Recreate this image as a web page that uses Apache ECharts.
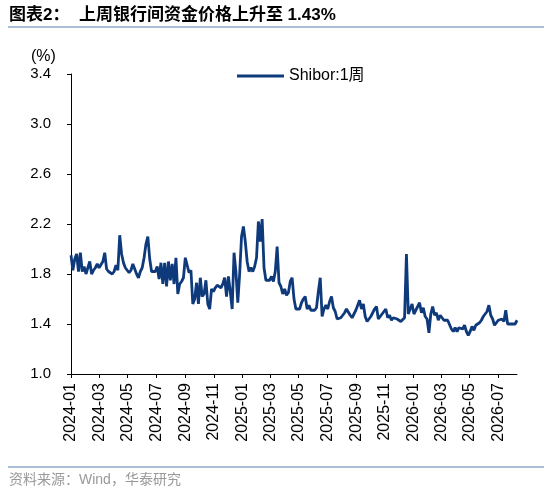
<!DOCTYPE html>
<html>
<head>
<meta charset="utf-8">
<script src="https://cdn.jsdelivr.net/npm/echarts@6/dist/echarts.min.js"></script>
<style>
  html,body{margin:0;padding:0;background:#fff;}
  #chart{width:550px;height:488px;}
</style>
</head>
<body>
<div id="chart"></div>
<script>
// 采样：从 2024-01-01 起每 4 天一个点
var startYear = 2024, startMonth = 0, startDay = 1, stepDays = 4;

// Shibor:1周（%）
var shibor1w = [
  1.95,1.83,1.92,1.96,1.82,1.97,1.82,1.86,1.80,1.81,
  1.90,1.80,1.83,1.85,1.88,1.85,1.86,1.90,1.97,1.84,
  1.82,1.81,1.80,1.82,1.87,1.83,2.11,1.96,1.89,1.85,
  1.83,1.81,1.83,1.88,1.87,1.80,1.77,1.82,1.85,1.93,
  2.04,2.10,1.92,1.82,1.81,1.82,1.86,1.76,1.89,1.72,
  1.89,1.70,1.90,1.75,1.88,1.72,1.93,1.64,1.72,1.74,
  1.77,1.93,1.94,1.81,1.83,1.56,1.60,1.73,1.56,1.77,
  1.62,1.64,1.75,1.56,1.52,1.68,1.66,1.69,1.71,1.71,
  1.69,1.72,1.77,1.62,1.78,1.66,1.52,1.97,1.82,1.57,
  1.80,2.10,2.18,2.06,1.90,1.82,1.85,1.82,1.86,1.93,
  2.22,2.06,2.24,1.85,1.75,1.76,1.75,1.78,1.74,1.82,
  2.02,1.73,1.70,1.64,1.68,1.63,1.65,1.74,1.77,1.60,
  1.52,1.51,1.52,1.57,1.60,1.62,1.52,1.55,1.51,1.52,
  1.51,1.53,1.66,1.77,1.46,1.52,1.55,1.52,1.58,1.62,
  1.53,1.50,1.44,1.44,1.45,1.45,1.49,1.52,1.53,1.47,
  1.45,1.48,1.51,1.55,1.59,1.52,1.56,1.46,1.42,1.44,
  1.46,1.47,1.52,1.54,1.44,1.46,1.47,1.50,1.52,1.45,
  1.47,1.43,1.45,1.45,1.44,1.43,1.42,1.41,1.45,1.96,
  1.48,1.49,1.56,1.48,1.51,1.52,1.57,1.49,1.53,1.46,
  1.44,1.33,1.48,1.54,1.47,1.49,1.43,1.47,1.45,1.43,
  1.44,1.43,1.42,1.36,1.34,1.37,1.34,1.37,1.38,1.36,
  1.39,1.34,1.31,1.34,1.38,1.35,1.39,1.38,1.41,1.43,
  1.46,1.47,1.50,1.55,1.47,1.44,1.39,1.39,1.43,1.42,
  1.44,1.42,1.51,1.40,1.39,1.40,1.39,1.40,1.43
];

// 横轴标签：每两个月
var tickMonths = ['2024-01','2024-03','2024-05','2024-07','2024-09','2024-11',
  '2025-01','2025-03','2025-05','2025-07','2025-09','2025-11',
  '2026-01','2026-03','2026-05','2026-07'];

var yTicks = [1.0, 1.4, 1.8, 2.2, 2.6, 3.0, 3.4];

var titleText = '图表2：  上周银行间资金价格上升至 1.43%';
var sourceText = '资料来源：Wind，华泰研究';
var seriesName = 'Shibor:1周';

var FONT = "'Liberation Sans', Arial, 'Noto Sans CJK SC', sans-serif";

var seriesData = [];
for (var i = 0; i < shibor1w.length; i++) {
  var d = new Date(startYear, startMonth, startDay + i * stepDays);
  seriesData.push([d.getTime(), shibor1w[i]]);
}
var tickValues = tickMonths.map(function (s) {
  var p = s.split('-');
  return new Date(+p[0], +p[1] - 1, 1).getTime();
});
var xMin = new Date(startYear, startMonth, startDay).getTime();
var xMax = seriesData[seriesData.length - 1][0];

function fmtMonth(v) {
  var d = new Date(v);
  var m = d.getMonth() + 1;
  return d.getFullYear() + '-' + (m < 10 ? '0' + m : m);
}

var option = {
  backgroundColor: '#fff',
  animation: false,
  textStyle: {fontFamily: FONT},
  grid: {left: 71, right: 33, top: 74, bottom: 114},
  legend: {
    left: 232,
    top: 63,
    icon: 'rect',
    itemWidth: 47,
    itemHeight: 3,
    itemGap: 5,
    textStyle: {fontSize: 16, color: '#000', fontFamily: FONT},
    data: [seriesName]
  },
  graphic: [
    {type: 'text', left: 9, top: 7,
      style: {text: titleText, fontSize: 17, fontWeight: 'bold', fill: '#000', fontFamily: FONT}},
    {type: 'line', shape: {x1: 8, y1: 27, x2: 544, y2: 27},
      style: {stroke: '#8FA9C9', lineWidth: 1.5}},
    {type: 'text', left: 31, top: 49,
      style: {text: '(%)', fontSize: 16, fill: '#000', fontFamily: FONT}},
    {type: 'line', shape: {x1: 8, y1: 467, x2: 544, y2: 467},
      style: {stroke: '#8FA9C9', lineWidth: 1.5}},
    {type: 'text', left: 9, top: 473,
      style: {text: sourceText, fontSize: 14, fill: '#999', fontFamily: FONT}}
  ],
  xAxis: {
    type: 'value',
    min: xMin,
    max: xMax,
    splitLine: {show: false},
    axisLine: {lineStyle: {color: '#000', width: 1}},
    axisTick: {show: true, length: 4, customValues: tickValues, lineStyle: {color: '#000'}},
    axisLabel: {
      customValues: tickValues,
      rotate: 90,
      margin: 9,
      fontSize: 16,
      color: '#000',
      fontFamily: FONT,
      formatter: fmtMonth
    }
  },
  yAxis: {
    type: 'value',
    min: yTicks[0],
    max: yTicks[yTicks.length - 1],
    interval: 0.4,
    splitLine: {show: false},
    axisLine: {show: true, lineStyle: {color: '#000', width: 1}},
    axisTick: {show: true, length: 4, lineStyle: {color: '#000'}},
    axisLabel: {
      margin: 20,
      fontSize: 15,
      color: '#000',
      fontFamily: FONT,
      formatter: function (v) { return v.toFixed(1); }
    }
  },
  series: [{
    name: seriesName,
    type: 'line',
    data: seriesData,
    showSymbol: false,
    symbol: 'none',
    lineStyle: {color: '#0E3A7C', width: 2.8},
    itemStyle: {color: '#0E3A7C'}
  }]
};

var myChart = echarts.init(document.getElementById('chart'));
myChart.setOption(option);
</script>
</body>
</html>
